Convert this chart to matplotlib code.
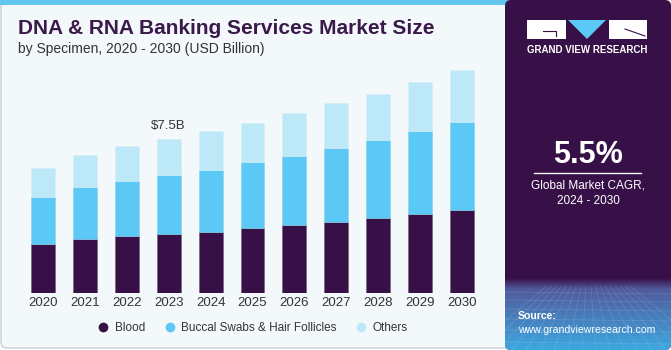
import matplotlib
matplotlib.use("Agg")
import matplotlib.pyplot as plt
from matplotlib.patches import FancyBboxPatch, Rectangle, Polygon
from matplotlib.lines import Line2D
import numpy as np

# data (USD Billion)
years = ["2020", "2021", "2022", "2023", "2024", "2025", "2026", "2027", "2028", "2029", "2030"]
blood = [2.41, 2.64, 2.77, 2.90, 2.99, 3.19, 3.30, 3.48, 3.66, 3.85, 4.06]
buccal = [2.26, 2.53, 2.69, 2.85, 3.01, 3.19, 3.37, 3.58, 3.78, 4.03, 4.28]
others = [1.41, 1.56, 1.70, 1.75, 1.87, 1.90, 2.07, 2.17, 2.25, 2.38, 2.53]
segments = ["Blood", "Buccal Swabs & Hair Follicles", "Others"]
labelIndex = 3
labelText = r"\$7.5B"

title = "DNA & RNA Banking Services Market Size"
subtitle = "by Specimen, 2020 - 2030 (USD Billion)"
cagr = "5.5%"
cagrText = "Global Market CAGR,\n2024 - 2030"

purple = "#371047"
blue = "#5BC8F5"
lightBlue = "#BDE8F8"
textGray = "#333333"

plt.rcParams["font.family"] = ["Liberation Sans", "DejaVu Sans"]

W, H = 671, 350
fig = plt.figure(figsize=(W / 100, H / 100), dpi=100)
fig.patch.set_facecolor("white")

# background drawn in pixel coords
bg = fig.add_axes([0, 0, 1, 1])
bg.set_xlim(0, W)
bg.set_ylim(H, 0)
bg.axis("off")

leftPanel = FancyBboxPatch((1, 1), 520, 347, boxstyle="round,pad=0,rounding_size=6",
                           facecolor="#F3F8FB", edgecolor="#C9CED3", lw=1)
bg.add_patch(leftPanel)
bg.add_patch(Rectangle((0, 0), 515, 5, facecolor="#62C6F0", edgecolor="none"))

rightPanel = FancyBboxPatch((505, 0), 166, 350, boxstyle="round,pad=0,rounding_size=6",
                            facecolor=purple, edgecolor="none")
bg.add_patch(rightPanel)

# bottom gradient of the side panel
grad = np.linspace(0, 1, 100)[:, None]
c0 = np.array([0x37, 0x10, 0x47]) / 255
c1 = np.array([0x50, 0x5A, 0x9C]) / 255
c2 = np.array([0x3D, 0xA8, 0xE0]) / 255
img = np.zeros((100, 1, 3))
for i, g in enumerate(grad[:, 0]):
    if g < 0.15:
        img[i, 0] = c0 + (c1 - c0) * (g / 0.15)
    else:
        img[i, 0] = c1 + (c2 - c1) * ((g - 0.15) / 0.85)
im = bg.imshow(img, extent=[505, 671, 350, 278], aspect="auto", zorder=2)
im.set_clip_path(rightPanel)

# faint grid on the gradient
for yy in [292, 300, 309, 319, 330, 342]:
    ln = bg.plot([505, 671], [yy, yy + 2], color="white", alpha=0.12, lw=0.6, zorder=3)[0]
    ln.set_clip_path(rightPanel)
for xx in np.arange(470, 720, 14):
    ln = bg.plot([588 + (xx - 588) * 0.35, xx], [286, 350], color="white", alpha=0.12, lw=0.6, zorder=3)[0]
    ln.set_clip_path(rightPanel)

# logo
bg.add_patch(Rectangle((527, 20), 39, 19, facecolor="white", edgecolor="none", zorder=4))
bg.add_patch(Rectangle((609, 20), 38, 19, facecolor="white", edgecolor="none", zorder=4))
bg.add_patch(Polygon([[568, 20], [606, 20], [587, 39]], closed=True, facecolor=blue, edgecolor="none", zorder=4))
bg.plot([543, 556, 556], [31, 31, 36], color=purple, lw=0.8, zorder=5)
bg.plot([625, 645], [29, 36], color=purple, lw=0.8, zorder=5)
bg.text(587, 50, "GRAND VIEW RESEARCH", color="white", fontsize=7, fontweight="bold",
        ha="center", va="center", zorder=5)

bg.text(588, 155, cagr, color="white", fontsize=22, fontweight="bold", ha="center", va="center", zorder=5)
bg.plot([534, 641], [173, 173], color="white", lw=1, zorder=5)
bg.text(588, 193, cagrText, color="white", fontsize=8.5, ha="center", va="center",
        linespacing=1.35, zorder=5)
bg.text(518, 316, "Source:", color="white", fontsize=7.6, fontweight="bold", ha="left", va="center", zorder=5)
bg.text(518, 330, "www.grandviewresearch.com", color="white", fontsize=7.6, ha="left", va="center", zorder=5)

# titles
bg.text(18, 29, title, color="#3B1A4B", fontsize=15, fontweight="bold", ha="left", va="center")
bg.text(18, 49, subtitle, color=textGray, fontsize=10, ha="left", va="center")

# chart
base = 293.3
ax = fig.add_axes([22 / W, (H - base) / H, 461 / W, 247 / H])
ax.set_facecolor("none")
x = np.arange(len(years))
w = 0.57
b1 = np.array(blood)
b2 = np.array(buccal)
b3 = np.array(others)
ax.bar(x, b1, w, color=purple, edgecolor="#6E5A7A", lw=0.4)
ax.bar(x, b2, w, bottom=b1, color=blue, edgecolor="#8CCFEA", lw=0.4)
ax.bar(x, b3, w, bottom=b1 + b2, color=lightBlue, edgecolor="#D5EEF8", lw=0.4)
total = b1 + b2 + b3
ax.annotate(labelText, (x[labelIndex], total[labelIndex]), xytext=(0, 5), textcoords="offset points",
            ha="center", va="bottom", fontsize=9.5, color=textGray)

ax.set_xlim(-0.5, len(years) - 0.5)
ax.set_ylim(0, 12)
ax.set_xticks(x)
ax.set_xticklabels(years, fontsize=9.5, color=textGray)
ax.tick_params(axis="x", length=0, pad=3)
ax.set_yticks([])
for s in ax.spines.values():
    s.set_visible(False)

handles = [Line2D([], [], marker="o", ls="", markersize=6, color=c) for c in [purple, blue, lightBlue]]
leg = fig.legend(handles, segments, loc="center", bbox_to_anchor=(253 / W, 1 - 327.7 / H), ncol=3,
                 frameon=False, fontsize=8.5, handlelength=0.8, handletextpad=0.55, columnspacing=1.7,
                 labelcolor=textGray)

fig.savefig("out.png", dpi=100, facecolor=fig.get_facecolor())
